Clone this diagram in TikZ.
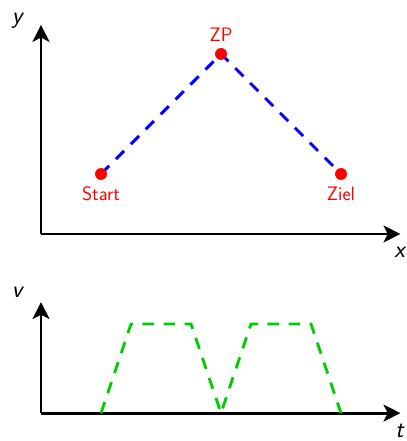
\documentclass[tikz,border=0pt]{standalone}
\usepackage{fontspec}
\usetikzlibrary{arrows.meta}
\begin{document}
\begin{tikzpicture}[x=1cm,y=1cm,
  axis/.style={line width=2.8pt,-{Stealth[length=16pt,width=16pt,inset=4pt]}},
  lbl/.style={font=\fontsize{23}{26}\selectfont\sffamily\itshape},
  ptlbl/.style={font=\fontsize{18.5}{21}\selectfont\sffamily,text=red},
  pt/.style={circle,fill=red,inner sep=0pt,minimum size=11pt},
  bluedash/.style={blue,line width=2.7pt,dash pattern=on 11pt off 9pt},
  greendash/.style={green!80!black,line width=2.7pt,dash pattern=on 11pt off 9pt}]
\useasboundingbox (-1.367,-6.9) rectangle (12.167,7.8);
% top
\coordinate (O1) at (0,0);
\coordinate (Y1) at (0,6.97);
\coordinate (X1) at (11.98,0);
\draw[axis] (O1) -- (Y1);
\draw[axis] (O1) -- (X1);
\node[lbl] (ly) at (-0.8,7.1) {y};
\node[lbl] (lx) at (11.95,-0.6) {x};
\node[pt] (S) at (2,2) {};
\node[pt] (Z) at (6,6) {};
\node[pt] (E) at (10,2) {};
\draw[bluedash] (S.center) -- (Z.center) -- (E.center);
\node[pt] at (S) {};
\node[pt] at (Z) {};
\node[pt] at (E) {};
\node[ptlbl] (ls) at (2,1.33) {Start};
\node[ptlbl] (lz) at (6,6.63) {ZP};
\node[ptlbl] (le) at (10,1.33) {Ziel};
% bottom
\coordinate (O2) at (0,-5.97);
\coordinate (Y2) at (0,-2.27);
\coordinate (X2) at (11.98,-5.97);
\draw[axis] (O2) -- (Y2);
\draw[axis] (O2) -- (X2);
\node[lbl] (lv) at (-0.8,-1.95) {v};
\node[lbl] (lt) at (11.95,-6.55) {t};
\coordinate (g1) at (2,-5.97);
\coordinate (g2) at (3,-3);
\coordinate (g3) at (5,-3);
\coordinate (g4) at (6,-5.97);
\coordinate (g5) at (7,-3);
\coordinate (g6) at (9,-3);
\coordinate (g7) at (10,-5.97);
\draw[greendash] (g1) -- (g2) -- (g3) -- (g4) -- (g5) -- (g6) -- (g7);
\end{tikzpicture}
\end{document}
